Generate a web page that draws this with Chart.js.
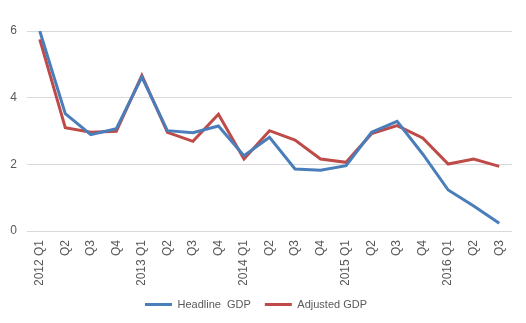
<!DOCTYPE html>
<html>
<head>
<meta charset="utf-8">
<script src="https://cdn.jsdelivr.net/npm/chart.js@4/dist/chart.umd.min.js"></script>
<style>
  html, body { margin: 0; padding: 0; background: #fff; }
  #wrap { width: 526px; height: 323px; }
</style>
</head>
<body>
<div id="wrap"><canvas id="gdpChart" width="526" height="323"></canvas></div>
<script>
// GDP GROWTH: HEADLINE VS ADJUSTED
const quarters = [
  "2012 Q1", "Q2", "Q3", "Q4",
  "2013 Q1", "Q2", "Q3", "Q4",
  "2014 Q1", "Q2", "Q3", "Q4",
  "2015 Q1", "Q2", "Q3", "Q4",
  "2016 Q1", "Q2", "Q3"
];

const headlineGDP = [
  6.0, 3.52, 2.89, 3.07,
  4.62, 3.01, 2.95, 3.15,
  2.26, 2.81, 1.86, 1.82,
  1.96, 2.96, 3.29, 2.31,
  1.23, 0.75, 0.23
];

const adjustedGDP = [
  5.75, 3.10, 2.96, 2.99,
  4.67, 2.96, 2.69, 3.50,
  2.16, 3.01, 2.73, 2.16,
  2.06, 2.92, 3.16, 2.79,
  2.01, 2.16, 1.94
];

const yTicks = [0, 2, 4, 6];

const textColor = "#595959";
const font = { family: "'Liberation Sans', Arial, sans-serif", size: 12 };

new Chart(document.getElementById("gdpChart"), {
  type: "line",
  data: {
    labels: quarters,
    datasets: [
      {
        label: "Headline  GDP",
        data: headlineGDP,
        borderColor: "#4A7EBB",
        backgroundColor: "#4A7EBB",
        borderWidth: 3,
        pointRadius: 0,
        tension: 0,
        fill: false
      },
      {
        label: "Adjusted GDP",
        data: adjustedGDP,
        borderColor: "#BE4B48",
        backgroundColor: "#BE4B48",
        borderWidth: 3,
        pointRadius: 0,
        tension: 0,
        fill: false
      }
    ]
  },
  options: {
    responsive: false,
    animation: false,
    layout: { padding: { top: 31, right: 14, bottom: 3, left: 0 } },
    plugins: {
      tooltip: { enabled: false },
      legend: {
        position: "bottom",
        labels: {
          color: textColor,
          font: { family: font.family, size: 11 },
          boxWidth: 27,
          boxHeight: 3,
          padding: 14,
          generateLabels: function(chart) {
            // plain line swatches, no outline
            return Chart.defaults.plugins.legend.labels.generateLabels(chart)
              .map(item => Object.assign(item, { lineWidth: 0 }));
          }
        }
      }
    },
    scales: {
      x: {
        offset: true,
        afterFit: function(scale) { scale.height = 54; },
        grid: { display: false },
        border: { display: false },
        ticks: {
          color: textColor,
          font: font,
          minRotation: 90,
          maxRotation: 90,
          autoSkip: false,
          padding: 1
        }
      },
      y: {
        min: 0,
        max: 6,
        afterFit: function(scale) { scale.width = 27; },
        afterBuildTicks: function(scale) {
          scale.ticks = yTicks.map(v => ({ value: v }));
        },
        grid: { color: "#D9D9D9", drawTicks: false },
        border: { display: false },
        ticks: { color: textColor, font: font, padding: 10 }
      }
    }
  }
});
</script>
</body>
</html>
